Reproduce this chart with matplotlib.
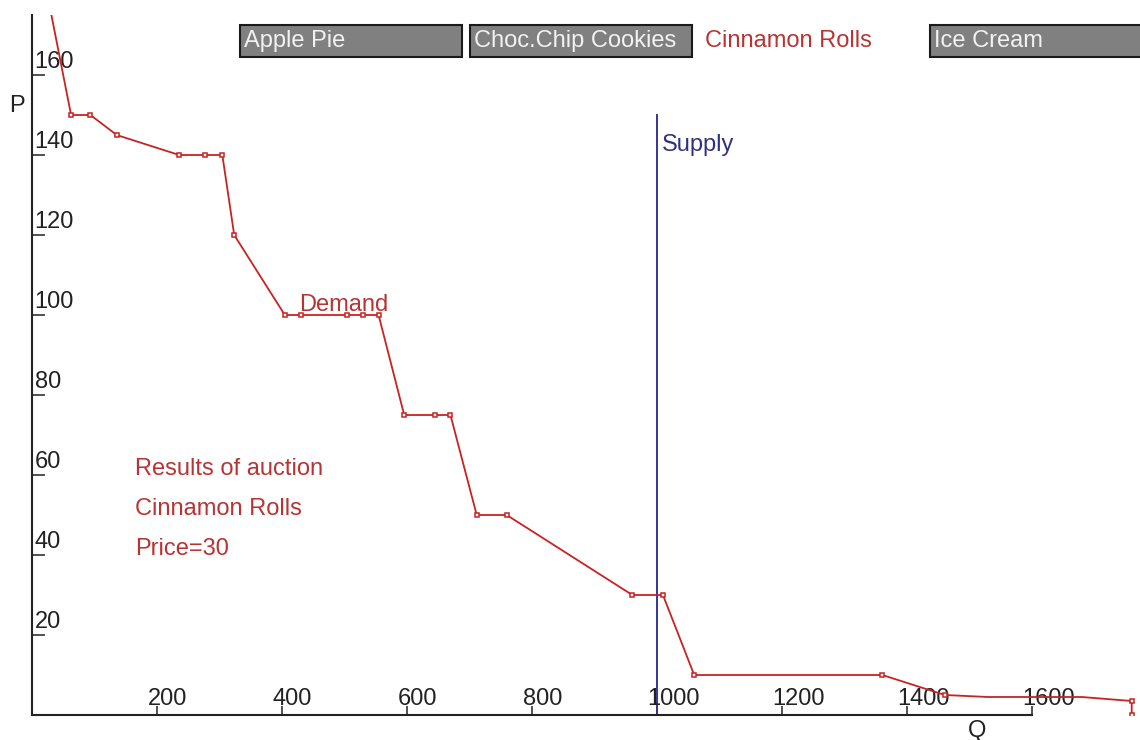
#!/usr/bin/python3
#Auction results chart - demand curve vs fixed supply
import matplotlib
matplotlib.use('Agg')
import matplotlib.pyplot as plt
from matplotlib.patches import Rectangle

plt.rcParams['font.family'] = ['Liberation Sans', 'DejaVu Sans']

#demand curve points (quantity, price)
demand_q = [0, 63, 94, 136, 236, 277, 305, 324, 405, 431, 505, 530, 555,
            596, 645, 670, 712, 760, 961, 1010, 1060, 1361, 1461, 1530, 1680, 1760, 1760]
demand_p = [200, 150, 150, 145, 140, 140, 140, 120, 100, 100, 100, 100, 100,
            75, 75, 75, 50, 50, 30, 30, 10, 10, 5, 4.5, 4.5, 3.5, 0]
#points that get no marker in the original (the flat tail)
no_marker = [0, 23, 24]

#supply is a vertical line
supply_q = [1000, 1000]
supply_p = [0, 150]

x_ticks = [200, 400, 600, 800, 1000, 1200, 1400, 1600]
y_ticks = [20, 40, 60, 80, 100, 120, 140, 160]

products = ['Apple Pie', 'Choc.Chip Cookies', 'Cinnamon Rolls', 'Ice Cream']
selected = 'Cinnamon Rolls'
price = 30

red = '#c82222'
txt_red = '#b83434'
blue = '#35359a'
fs = 17

W, H = 1140, 740
fig = plt.figure(figsize=(W / 100, H / 100), dpi=100)
fig.patch.set_facecolor('white')

#axes placed in pixels: origin at (31.7, 715) from top-left
x0, y0 = 31.7, 25
ax = fig.add_axes([x0 / W, y0 / H, (W - x0) / W, 700 / H])
ax.set_xlim(0, (W - x0) / 0.625)
ax.set_ylim(0, 175)

for s in ['top', 'right']:
    ax.spines[s].set_visible(False)
ax.spines['bottom'].set_bounds(0, 1600)
ax.spines['left'].set_bounds(0, 175)
for s in ['bottom', 'left']:
    ax.spines[s].set_color('#222222')
    ax.spines[s].set_linewidth(1.5)

ax.set_xticks(x_ticks)
ax.set_yticks(y_ticks)
ax.set_xticklabels([])
ax.set_yticklabels([])
ax.tick_params(axis='x', direction='in', length=6.5, width=1.1, color='#222222')
ax.tick_params(axis='y', direction='in', length=9, width=1.1, color='#222222')

#tick labels sit inside the axes, next to the tick marks
for v in x_ticks:
    ax.annotate(str(v), xy=(v, 0), xytext=(-9, 5), textcoords='offset pixels',
                ha='left', va='bottom', fontsize=fs, color='#222222')
for v in y_ticks:
    ax.annotate(str(v), xy=(0, v), xytext=(3, 2), textcoords='offset pixels',
                ha='left', va='bottom', fontsize=fs, color='#222222')

#curves
ax.plot(supply_q, supply_p, color=blue, lw=1.4, zorder=2)
marks = [i for i in range(len(demand_q)) if i not in no_marker]
ax.plot(demand_q, demand_p, color=red, lw=1.3, marker='s', markersize=3.2,
        mfc='white', mec=red, mew=1.1, markevery=marks, zorder=3)

ax.text(1009, 141, 'Supply', color='#303080', fontsize=fs, va='baseline')
ax.text(428, 101, 'Demand', color=txt_red, fontsize=fs, va='baseline')

ax.text(165, 60, 'Results of auction', color=txt_red, fontsize=fs, va='baseline')
ax.text(165, 50, selected, color=txt_red, fontsize=fs, va='baseline')
ax.text(165, 40, 'Price=' + str(price), color=txt_red, fontsize=fs, va='baseline')

#axis letters
fig.text(17 / W, 1 - 106 / H, 'P', fontsize=fs, ha='center', va='center', color='#222222')
fig.text(977 / W, 1 - 731 / H, 'Q', fontsize=fs, ha='center', va='center', color='#222222')

#product selector buttons along the top
btn_left = [240, 470, 705, 930]
btn_right = [462, 692, 882, 1160]
for name, l, r in zip(products, btn_left, btn_right):
    if name == selected:
        fig.text(l / W, 1 - 41 / H, name, fontsize=fs, color=txt_red,
                 ha='left', va='center')
        continue
    rect = Rectangle((l / W, 1 - 57 / H), (r - l) / W, 32 / H, transform=fig.transFigure,
                     facecolor='#808080', edgecolor='#1a1a1a', lw=1.5)
    fig.patches.append(rect)
    fig.text((l + 4) / W, 1 - 41 / H, name, fontsize=fs, color='#f2f2f2',
             ha='left', va='center')

fig.savefig('out.png', dpi=100)
